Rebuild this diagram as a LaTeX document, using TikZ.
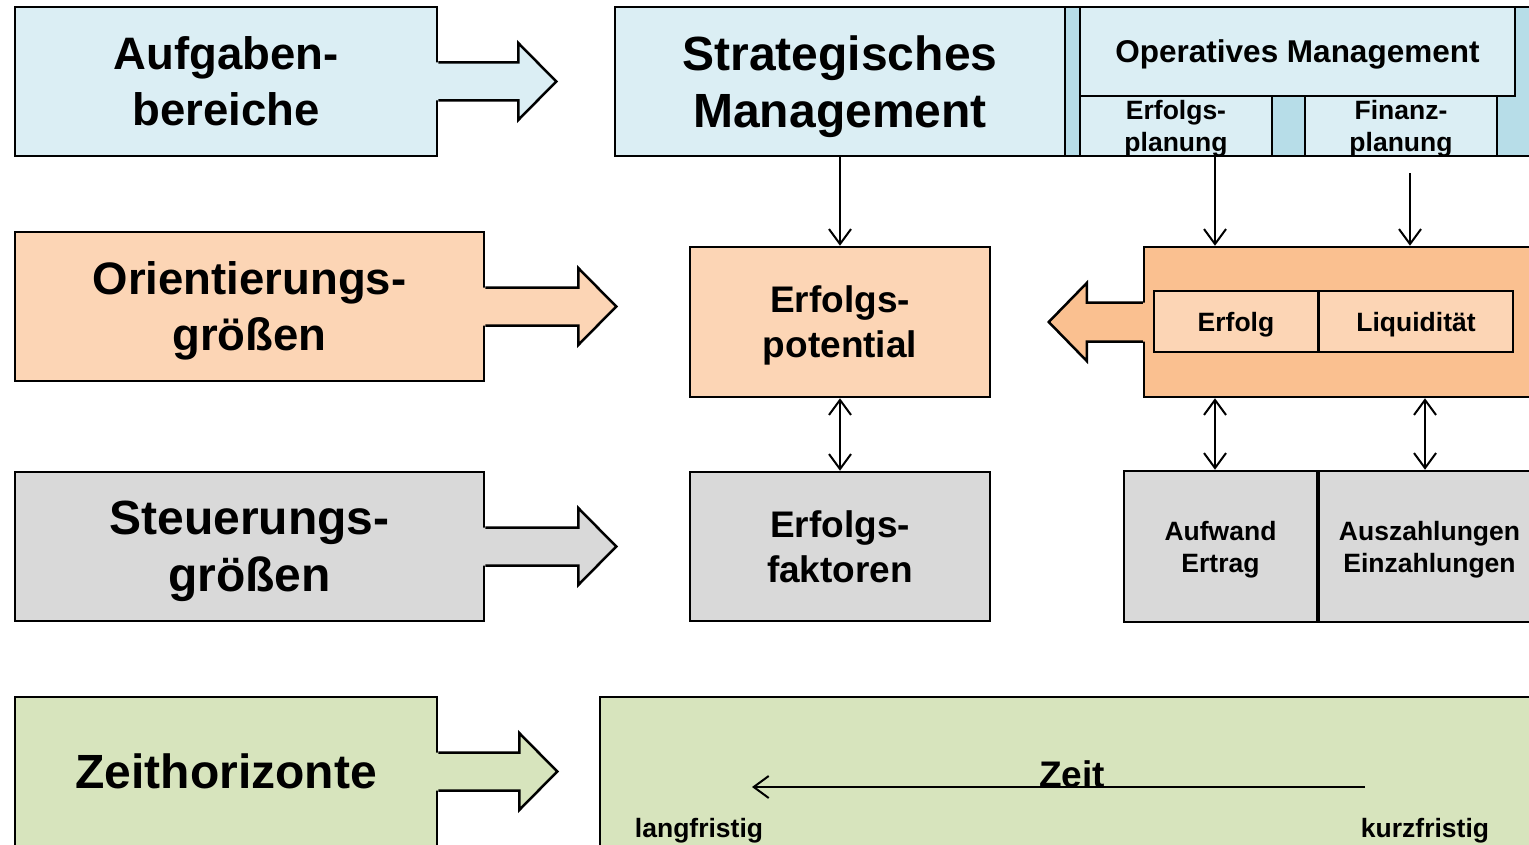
\documentclass[tikz,border=0pt]{standalone}
\usepackage{fontspec}
\setmainfont{Liberation Sans}
\usetikzlibrary{arrows.meta,calc,positioning}

\definecolor{blauhell}{HTML}{DBEEF4}
\definecolor{blaudunkel}{HTML}{B7DDE8}
\definecolor{orangehell}{HTML}{FCD5B5}
\definecolor{orangedunkel}{HTML}{FAC090}
\definecolor{grauhell}{HTML}{D9D9D9}
\definecolor{gruenhell}{HTML}{D7E4BD}

\tikzset{kasten/.style={ % Rahmen aller Kaesten
            draw, line width=2.5pt, inner sep=0pt, align=center},
        rand/.style={draw, line width=2.5pt},
        grosstext/.style={font=\fontsize{45.5}{56}\selectfont\bfseries, text depth=0pt},
        riesentext/.style={font=\fontsize{48}{57}\selectfont\bfseries, text depth=0pt},
        mitteltext/.style={font=\fontsize{37}{45}\selectfont\bfseries, text depth=0pt},
        optext/.style={font=\fontsize{31.5}{38}\selectfont\bfseries, text depth=0pt},
        kleintext/.style={font=\fontsize{26.5}{32}\selectfont\bfseries, align=center, text depth=0pt},
        pfeil/.style={ % einfache Verbindung
            -{Straight Barb[length=15pt,width=22pt]}, line width=2pt},
        pfeilbeid/.style={ % Verbindung in beide Richtungen
            {Straight Barb[length=15pt,width=22pt]}-{Straight Barb[length=15pt,width=22pt]}, line width=2pt}
        }

% Blockpfeil rechts an einem Kasten: #1 Kasten, #2 Farbe, #3 Schaftlaenge
\newcommand{\pfeilan}[3]{%
    \fill[#2] ($(#1.east)+(-3,-19)$) -- ++(#3+3,0) -- ++(0,-19.5) -- ++(38,38.5)
        -- ++(-38,38.5) -- ++(0,-19.5) -- ++(-#3-3,0) -- cycle;
    \draw[rand] ($(#1.east)+(0,-19)$) -- ++(#3,0) -- ++(0,-19.5) -- ++(38,38.5)
        -- ++(-38,38.5) -- ++(0,-19.5) -- ++(-#3,0);
}

\begin{document}
\begin{tikzpicture}[x=1pt, y=-1pt]
    \useasboundingbox (0,0) rectangle (1529,845);
    \clip (0,0) rectangle (1529,845);

    % Aufgabenbereiche
    \node[kasten, fill=blauhell, minimum width=422pt, minimum height=149pt, grosstext] (aufg) at (226,81.5) {Aufgaben-\\bereiche};
    \pfeilan{aufg}{blauhell}{80}
    \node[kasten, fill=blaudunkel, minimum width=475pt, minimum height=149pt] (opband) at (1302.5,81.5) {};
    \node[kasten, fill=blauhell, minimum width=450pt, minimum height=149pt, riesentext] (strat) at (840,81.5) {Strategisches\\Management};
    \node[kasten, fill=blauhell, minimum width=435pt, minimum height=89pt, optext] (opm) at (1297.5,51.5) {Operatives Management};
    \node[kasten, fill=blauhell, minimum width=192pt, minimum height=60pt, kleintext] (erfplan) at (1176,126) {Erfolgs-\\planung};
    \node[kasten, fill=blauhell, minimum width=192pt, minimum height=60pt, kleintext] (finplan) at (1401,126) {Finanz-\\planung};

    % Orientierungsgroessen
    \node[kasten, fill=orangehell, minimum width=469pt, minimum height=149pt, grosstext] (orient) at (249.5,306.5) {Orientierungs-\\größen};
    \pfeilan{orient}{orangehell}{93}
    \node[kasten, fill=orangehell, minimum width=300pt, minimum height=150pt, mitteltext] (potential) at (840,322) {Erfolgs-\\potential};
    \node[kasten, fill=orangedunkel, minimum width=396pt, minimum height=150pt] (ziel) at (1342,322) {};
    \fill[orangedunkel] ($(ziel.west)+(3,-19.5)$) -- ++(-59,0) -- ++(0,-19.5) -- ++(-38,39)
        -- ++(38,39) -- ++(0,-19.5) -- ++(59,0) -- cycle;
    \draw[rand] ($(ziel.west)+(0,-19.5)$) -- ++(-56,0) -- ++(0,-19.5) -- ++(-38,39)
        -- ++(38,39) -- ++(0,-19.5) -- ++(56,0);
    \node[kasten, fill=orangehell, minimum width=164pt, minimum height=61pt, kleintext] (erfolg) at (1236,321.5) {Erfolg};
    \node[kasten, fill=orangehell, minimum width=194pt, minimum height=61pt, kleintext] (liqui) at (1416,321.5) {Liquidität};

    % Steuerungsgroessen
    \node[kasten, fill=grauhell, minimum width=469pt, minimum height=149pt, riesentext] (steuer) at (249.5,546.5) {Steuerungs-\\größen};
    \pfeilan{steuer}{grauhell}{93}
    \node[kasten, fill=grauhell, minimum width=300pt, minimum height=149pt, mitteltext] (faktoren) at (840,546.5) {Erfolgs-\\faktoren};
    \node[kasten, fill=grauhell, minimum width=193pt, minimum height=151pt, kleintext] (aufwand) at (1220.5,546.5) {Aufwand\\Ertrag};
    \node[kasten, fill=grauhell, minimum width=221pt, minimum height=151pt, kleintext] (auszahl) at (1429.5,546.5) {Auszahlungen\\Einzahlungen};

    % Zeithorizonte
    \node[kasten, fill=gruenhell, minimum width=422pt, minimum height=149pt, riesentext] (zeith) at (226,771.5) {Zeithorizonte};
    \pfeilan{zeith}{gruenhell}{81}
    \node[kasten, fill=gruenhell, minimum width=940pt, minimum height=163pt] (zeitbox) at (1070,778.5) {};
    \coordinate (kurz) at (1365,787);
    \coordinate (lang) at (752,787);
    \node[mitteltext, anchor=base, inner sep=0pt] (zeit) at (1072,787) {Zeit};
    \draw[pfeil] (kurz) -- (lang);
    \node[kleintext] (langfr) at (699,828) {langfristig};
    \node[kleintext] (kurzfr) at (1425,828) {kurzfristig};

    % Verbindungen
    \coordinate (ep) at ($(erfplan.south)+(39,0)$);
    \coordinate (fp) at ($(finplan.south)+(9,16)$);
    \coordinate (az) at ($(auszahl.north)+(-4.5,0)$);
    \draw[pfeil] (strat) -- (potential);
    \draw[pfeil] (ep) -- (ep |- ziel.north);
    \draw[pfeil] (fp) -- (fp |- ziel.north);
    \draw[pfeilbeid] (potential) -- (faktoren);
    \draw[pfeilbeid] (ep |- ziel.south) -- (ep |- aufwand.north);
    \draw[pfeilbeid] (az |- ziel.south) -- (az);
\end{tikzpicture}
\end{document}
